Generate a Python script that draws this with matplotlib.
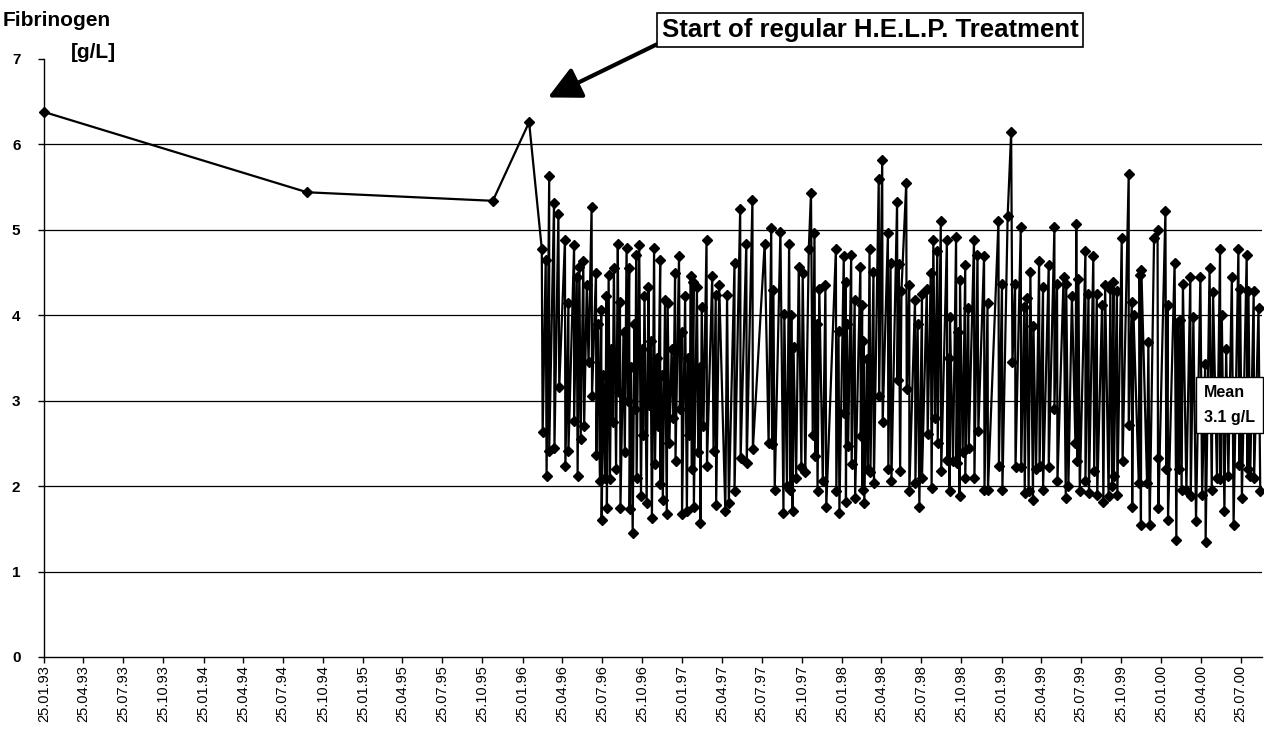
import numpy as np
import matplotlib
matplotlib.use("Agg")
import matplotlib.pyplot as plt
import matplotlib.dates as mdates
from datetime import datetime

plt.rcParams["font.family"] = ["Liberation Sans", "DejaVu Sans"]

START = np.datetime64("1993-01-25")

# Tage seit 25.01.93, Fibrinogen [g/L]
pre_points = [(0, 6.38), (602, 5.44), (1027, 5.34), (1110, 6.26)]

# regelmaessige H.E.L.P.-Therapie (vor / nach Apherese)
help_points = [
    (1139, 4.78), (1141, 2.63), (1148, 4.65), (1150, 2.12), (1156, 5.63), (1156, 2.41),
    (1167, 5.31), (1168, 2.45), (1177, 5.18), (1179, 3.16), (1192, 4.88), (1193, 2.24),
    (1200, 4.14), (1200, 2.41), (1213, 4.82), (1213, 2.76), (1219, 4.45), (1221, 2.12),
    (1225, 4.57), (1228, 2.55), (1234, 4.63), (1236, 2.70), (1242, 4.35), (1246, 3.45),
    (1253, 5.27), (1254, 3.06), (1263, 4.50), (1264, 2.37), (1268, 3.90), (1272, 2.06),
    (1275, 4.06), (1276, 1.60), (1280, 3.30), (1284, 2.10), (1287, 4.22), (1288, 1.75),
    (1292, 4.47), (1295, 2.08), (1298, 3.60), (1301, 2.75), (1304, 4.55), (1309, 2.20),
    (1313, 4.83), (1315, 3.10), (1318, 4.16), (1319, 1.75), (1326, 3.80), (1329, 2.40),
    (1333, 4.79), (1336, 3.00), (1339, 4.55), (1340, 1.73), (1343, 3.40), (1347, 1.45),
    (1351, 3.90), (1353, 2.90), (1355, 4.71), (1356, 2.10), (1362, 4.82), (1366, 1.88),
    (1369, 3.60), (1371, 2.60), (1374, 4.22), (1379, 1.80), (1383, 4.33), (1385, 2.95),
    (1388, 3.70), (1391, 1.63), (1396, 4.79), (1398, 2.26), (1402, 3.50), (1405, 2.70),
    (1410, 4.65), (1410, 2.02), (1413, 3.30), (1416, 1.84), (1421, 4.18), (1425, 1.67),
    (1427, 4.14), (1431, 2.50), (1436, 3.60), (1440, 2.80), (1444, 4.49), (1445, 2.30),
    (1453, 4.69), (1455, 2.90), (1459, 3.80), (1460, 1.67), (1467, 4.22), (1471, 1.71),
    (1474, 3.50), (1477, 2.60), (1480, 4.46), (1482, 2.20), (1486, 4.39), (1487, 1.76),
    (1494, 4.33), (1497, 2.40), (1501, 3.40), (1502, 1.57), (1505, 4.10), (1509, 2.70),
    (1516, 4.88), (1517, 2.24), (1529, 4.46), (1532, 2.41), (1537, 4.24), (1538, 1.78),
    (1545, 4.35),
    # 1997
    (1559, 1.71), (1563, 4.24), (1567, 1.80), (1580, 4.61), (1580, 1.94), (1593, 5.25),
    (1594, 2.33), (1607, 4.84), (1608, 2.27), (1621, 5.35), (1622, 2.43), (1649, 4.84),
    (1658, 2.50), (1664, 5.02), (1666, 2.49), (1669, 4.30), (1672, 1.96), (1685, 4.98),
    (1692, 1.69), (1694, 4.02), (1700, 2.00), (1705, 4.84), (1708, 1.96), (1710, 4.00),
    (1713, 1.71), (1715, 3.63), (1721, 2.10), (1727, 4.57), (1733, 2.22), (1736, 4.49),
    (1742, 2.16), (1750, 4.78), (1755, 5.43), (1759, 2.60), (1763, 4.96), (1765, 2.35),
    (1768, 3.90), (1770, 1.94), (1774, 4.31), (1782, 2.06), (1788, 4.35), (1790, 1.76),
    (1812, 4.78), (1813, 1.94), (1818, 3.82), (1820, 1.69), (1830, 4.69), (1831, 2.86),
    (1834, 4.39), (1835, 1.82), (1837, 3.90), (1840, 2.47), (1847, 4.71), (1848, 2.26),
    (1855, 4.18), (1856, 1.86), (1868, 4.57), (1869, 2.59), (1872, 4.12), (1873, 1.96),
    (1875, 3.70), (1877, 1.80), (1883, 3.49), (1885, 2.20), (1889, 4.78), (1891, 2.16),
    (1898, 4.51), (1899, 2.04), (1910, 5.59), (1911, 3.06), (1918, 5.82), (1919, 2.75),
    (1931, 4.96), (1932, 2.20), (1937, 4.61), (1939, 2.06), (1952, 5.33), (1953, 3.24),
    (1956, 4.60), (1959, 2.18), (1962, 4.29),
    # 1998 / 1999
    (1973, 5.55), (1974, 3.14), (1980, 4.35), (1980, 1.94), (1993, 4.18), (1994, 2.04),
    (1999, 3.90), (2003, 1.76), (2009, 4.25), (2009, 2.10), (2020, 4.31), (2022, 2.61),
    (2029, 4.49), (2031, 1.98), (2035, 4.88), (2039, 2.80), (2044, 4.75), (2045, 2.51),
    (2052, 5.10), (2053, 2.18), (2066, 4.88), (2067, 2.31), (2070, 3.50), (2072, 1.94),
    (2073, 3.98), (2080, 2.30), (2087, 4.92), (2088, 2.27), (2092, 3.80), (2095, 1.88),
    (2096, 4.41), (2102, 2.40), (2108, 4.59), (2108, 2.10), (2115, 4.08), (2116, 2.45),
    (2128, 4.88), (2129, 2.10), (2136, 4.71), (2138, 2.65), (2151, 4.69), (2152, 1.96),
    (2159, 4.14), (2160, 1.96), (2184, 5.10), (2185, 2.24), (2192, 4.37), (2193, 1.96),
    (2205, 5.16), (2213, 6.14), (2216, 3.45), (2222, 4.37), (2223, 2.22), (2235, 5.03),
    (2236, 2.22), (2243, 4.10), (2244, 1.92), (2249, 4.20), (2253, 1.94), (2257, 4.51),
    (2263, 1.84), (2264, 3.88), (2270, 2.20), (2277, 4.63), (2278, 2.24), (2286, 4.33),
    (2286, 1.96), (2299, 4.59), (2299, 2.22), (2312, 5.03), (2312, 2.90), (2318, 4.37),
    (2319, 2.06), (2333, 4.45), (2338, 1.86), (2339, 4.37), (2344, 2.00), (2352, 4.22),
    (2360, 2.51), (2362, 5.07), (2364, 2.30), (2367, 4.43), (2370, 1.94), (2383, 4.75),
    (2383, 2.06), (2390, 4.25), (2391, 1.92),
    # 1999 / 2000
    (2401, 4.69), (2403, 2.18), (2409, 4.25), (2410, 1.90), (2421, 4.12), (2424, 1.82),
    (2428, 4.35), (2436, 1.88), (2440, 4.31), (2444, 2.00), (2447, 4.39), (2448, 2.12),
    (2455, 4.29), (2456, 1.90), (2466, 4.90), (2468, 2.29), (2482, 5.65), (2482, 2.71),
    (2489, 4.16), (2490, 1.76), (2493, 4.00), (2505, 2.04), (2507, 4.47), (2510, 1.55),
    (2511, 4.53), (2524, 2.04), (2527, 3.69), (2530, 1.55), (2540, 4.90), (2548, 5.00),
    (2549, 2.33), (2550, 1.74), (2566, 5.22), (2568, 2.20), (2571, 4.12), (2572, 1.60),
    (2587, 4.61), (2591, 1.37), (2594, 3.92), (2597, 2.20), (2600, 3.94), (2603, 1.95),
    (2606, 4.37), (2614, 1.96), (2623, 4.45), (2624, 1.88), (2630, 3.98), (2636, 1.59),
    (2646, 4.45), (2650, 1.90), (2657, 3.43), (2658, 1.35), (2667, 4.55), (2672, 1.96),
    (2675, 4.27), (2684, 2.10), (2691, 4.78), (2692, 2.08), (2695, 4.00), (2701, 1.71),
    (2705, 3.60), (2710, 2.12), (2718, 4.45), (2722, 1.55), (2733, 4.78), (2735, 2.25),
    (2737, 4.31), (2741, 1.86), (2752, 4.71), (2754, 2.20), (2756, 4.29), (2760, 2.12),
    (2768, 4.29), (2769, 2.10), (2779, 4.08), (2783, 1.94),
]

grid_levels = [1, 2, 3, 4, 5, 6]
y_ticks = [0, 1, 2, 3, 4, 5, 6, 7]
tick_dates = [datetime(y, m, 25) for y in range(1993, 2001) for m in (1, 4, 7, 10)][:31]
mean_text = "Mean\n3.1 g/L"
note_text = "Start of regular H.E.L.P. Treatment"

days, vals = zip(*(pre_points + help_points))
dates = START + np.array(days, dtype="timedelta64[D]")

W, H = 1264, 745
fig = plt.figure(figsize=(W / 100, H / 100), dpi=100)
ax = fig.add_axes([44 / W, 88 / H, 1218 / W, 598 / H])

for g in grid_levels:
    ax.axhline(g, color="black", lw=0.9, zorder=1)

ax.plot(dates, vals, color="black", lw=1.6, marker="D", ms=5.5,
        zorder=3, clip_on=False)

ax.set_ylim(0, 7)
ax.set_yticks(y_ticks)
ax.set_xlim(datetime(1993, 1, 25), datetime(2000, 9, 12))
ax.set_xticks(tick_dates)
ax.xaxis.set_major_formatter(mdates.DateFormatter("%d.%m.%y"))

for s in ("top", "right"):
    ax.spines[s].set_visible(False)
for s in ("left", "bottom"):
    ax.spines[s].set_linewidth(1.0)

ax.tick_params(axis="y", length=4, width=1, pad=13, labelsize=11)
ax.tick_params(axis="x", length=4, width=1, pad=2, labelsize=10.5,
               labelrotation=90)
for lbl in ax.get_yticklabels():
    lbl.set_fontweight("bold")

fig.text(57 / W, 1 - 20 / H, "Fibrinogen", ha="center", va="center",
         fontsize=15, fontweight="bold")
fig.text(93 / W, 1 - 53 / H, "[g/L]", ha="center", va="center",
         fontsize=15, fontweight="bold")

ax.annotate(note_text, xy=(datetime(1996, 3, 23), 6.55),
            xytext=(870, H - 30), textcoords="figure pixels",
            ha="center", va="center", fontsize=18.5, fontweight="bold",
            bbox=dict(boxstyle="square,pad=0.18", fc="white", ec="black", lw=1.2),
            arrowprops=dict(arrowstyle="-|>,head_length=1.0,head_width=0.5",
                            lw=3, color="black", shrinkA=0, shrinkB=0,
                            relpos=(0, 0), mutation_scale=20))

ax.text(0.9525, 0.421, mean_text, transform=ax.transAxes, ha="left",
        va="center", fontsize=11.5, fontweight="bold", linespacing=1.8,
        bbox=dict(boxstyle="square,pad=0.5", fc="white", ec="black", lw=1),
        zorder=5, clip_on=False)

fig.savefig("out.png", dpi=100)
